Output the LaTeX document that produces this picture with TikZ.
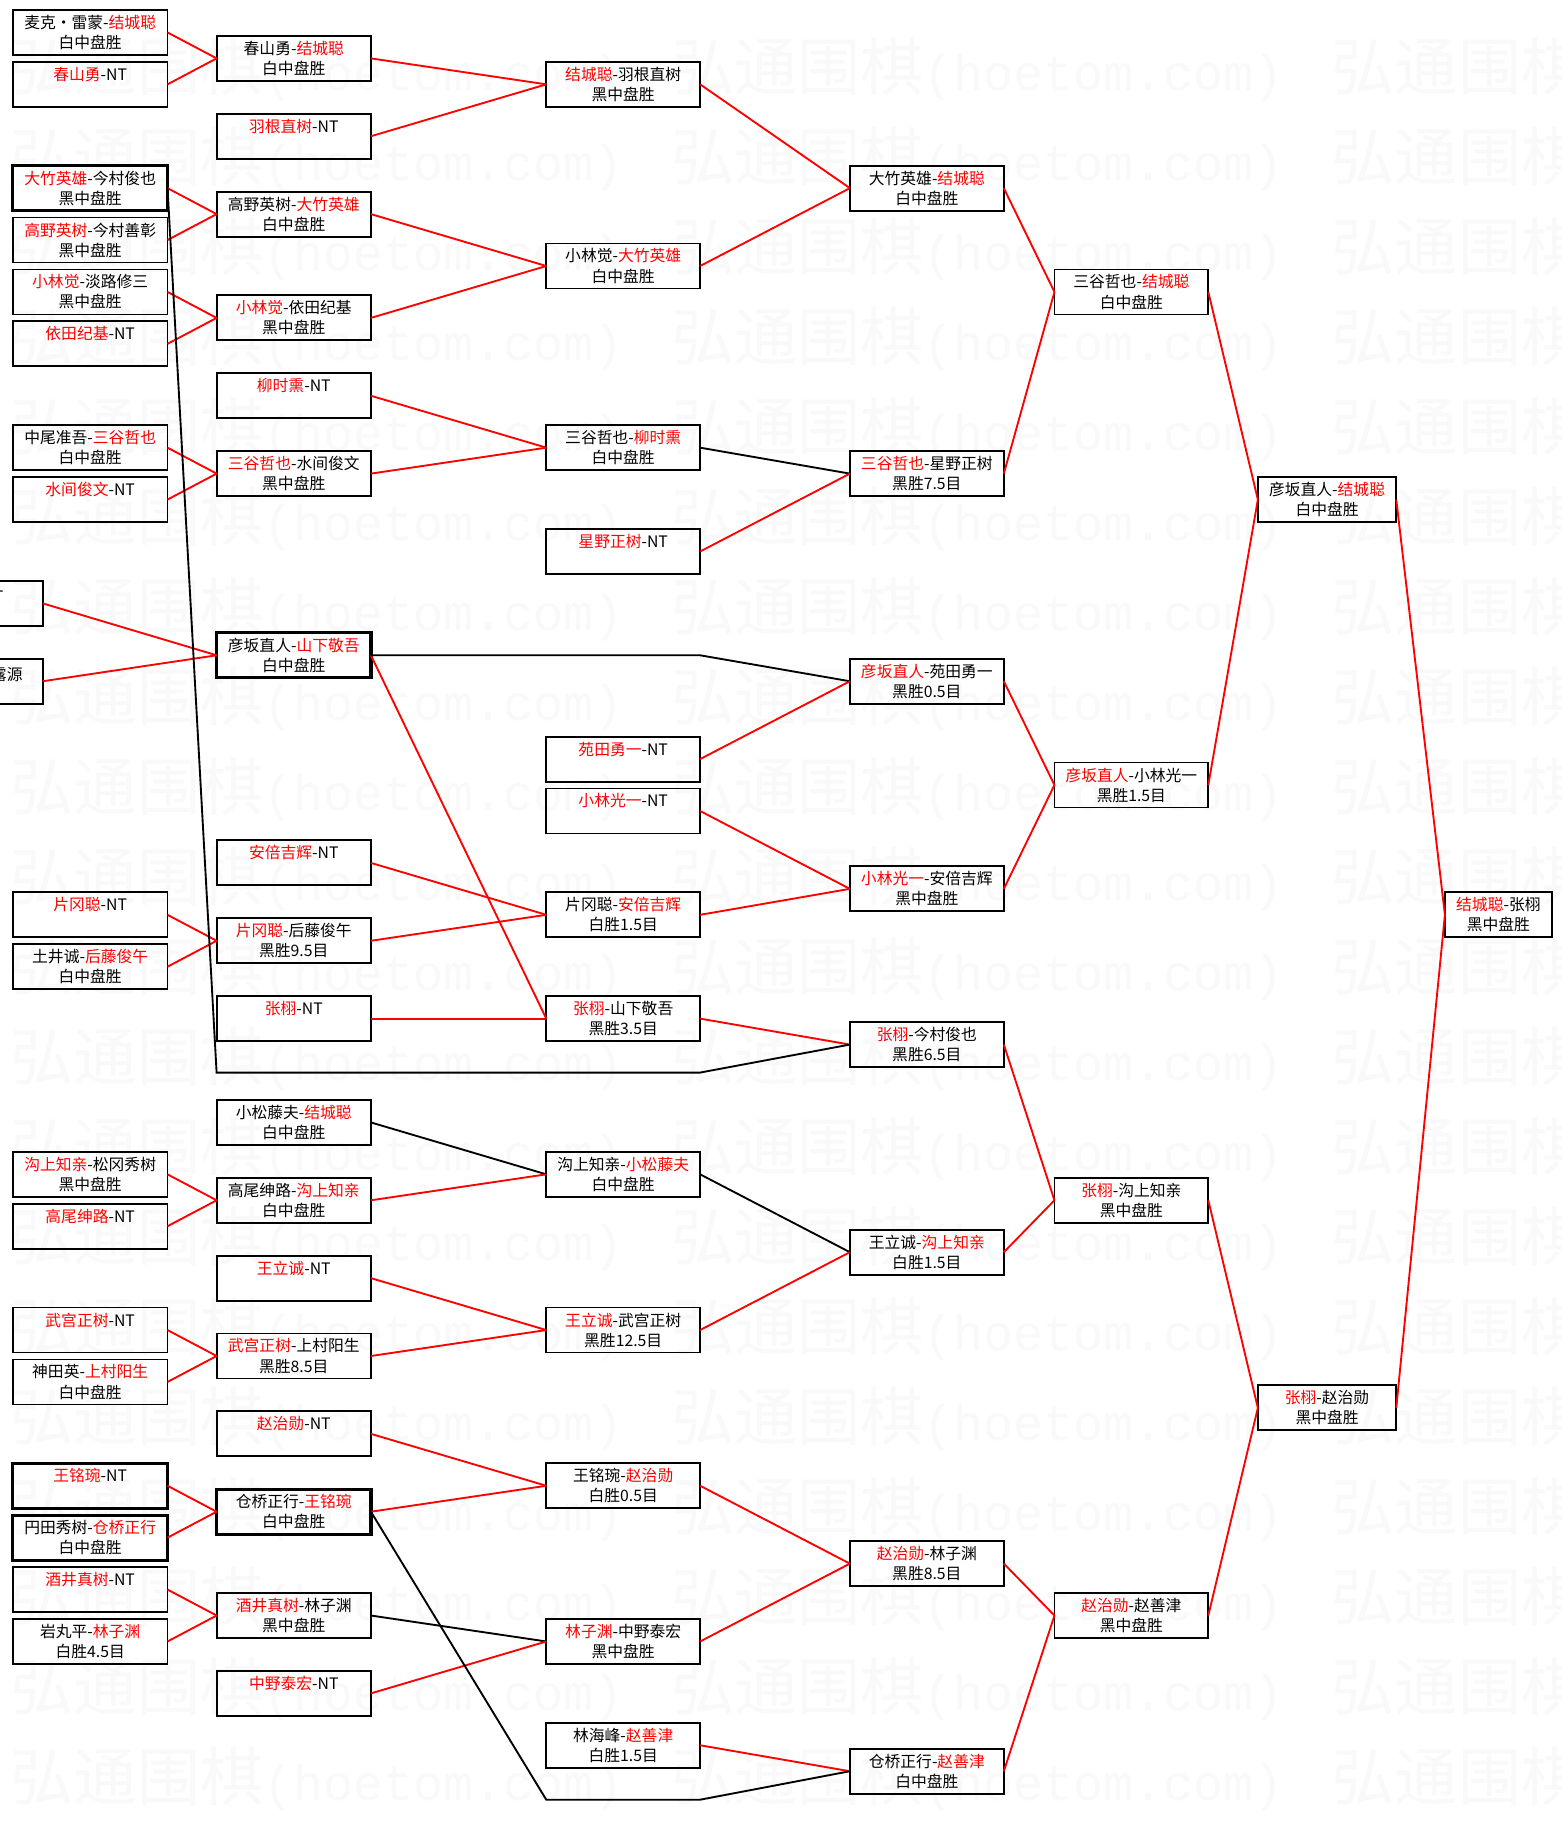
\documentclass[tikz,border=0pt]{standalone}
\usepackage{fontspec}
\newfontfamily\cjkfont{Noto Sans CJK SC}
\newfontfamily\wmlatin{Liberation Mono}
\newcommand\redn[1]{\textcolor{red}{#1}}
\newcommand\ry[1]{8.5+22.2*#1}
\tikzset{
  bx/.style={draw=black, line width=1.6pt, rectangle, inner sep=0pt, outer sep=0pt,
    anchor=north west, minimum height=38.5pt, align=center,
    font=\cjkfont\fontsize{13.5}{17.2}\selectfont, text=black,
    execute at begin node={\rule{0pt}{19.5pt}}},
  thk/.style={line width=2.8pt},
  cA/.style={minimum width=132.3pt},
  cB/.style={minimum width=132pt},
  cC/.style={minimum width=131.6pt},
  cD/.style={minimum width=131.7pt},
  cE/.style={minimum width=131.6pt},
  cF/.style={minimum width=118.4pt},
  cG/.style={minimum width=91.5pt},
  rl/.style={draw=red, line width=1.6pt},
  bl/.style={draw=black, line width=1.6pt},
  wm/.style={anchor=base west, inner sep=0pt, text=black!2.5},
  cut/.style={anchor=east, inner sep=0pt, font=\cjkfont\fontsize{13.5}{16.5}\selectfont},
}
\begin{document}
\begin{tikzpicture}[x=1pt,y=-1pt]
\useasboundingbox (0,0) rectangle (1336,1568);
\fill[white] (0,0) rectangle (1336,1568);
\clip (0,0) rectangle (1336,1568);
% watermark
\foreach \k in {0,...,19}{
  \foreach \xx in {9,574,1139}{
    \node[wm] (wm-\k-\xx) at (\xx,{77.5+77*\k}) {{\cjkfont\fontsize{54}{60}\selectfont 弘通围棋}{\wmlatin\fontsize{42.8}{50}\selectfont (hoetom.com)}};
  }
}
% column A
\node[bx,cA] (A1) at (11,{\ry{0}}) {麦克・雷蒙-\redn{结城聪}\\白中盘胜};
\node[bx,cA] (A2) at (11,{\ry{2}}) {\redn{春山勇}-NT\\\phantom{白}};
\node[bx,cA,thk] (A3) at (11,{\ry{6}}) {\redn{大竹英雄}-今村俊也\\黑中盘胜};
\node[bx,cA] (A4) at (11,{\ry{8}}) {\redn{高野英树}-今村善彰\\黑中盘胜};
\node[bx,cA] (A5) at (11,{\ry{10}}) {\redn{小林觉}-淡路修三\\黑中盘胜};
\node[bx,cA] (A6) at (11,{\ry{12}}) {\redn{依田纪基}-NT\\\phantom{白}};
\node[bx,cA] (A7) at (11,{\ry{16}}) {中尾准吾-\redn{三谷哲也}\\白中盘胜};
\node[bx,cA] (A8) at (11,{\ry{18}}) {\redn{水间俊文}-NT\\\phantom{白}};
\node[bx,cA] (A9) at (-95.7,{\ry{22}}) {};
\node[cut] (A9t) at (3,{\ry{22}+13.5}) {-NT};
\node[bx,cA] (A10) at (-95.7,{\ry{25}}) {};
\node[cut] (A10t) at (19.5,{\ry{25}+13.5}) {露源};
\node[bx,cA] (A11) at (11,{\ry{34}}) {\redn{片冈聪}-NT\\\phantom{白}};
\node[bx,cA] (A12) at (11,{\ry{36}}) {土井诚-\redn{后藤俊午}\\白中盘胜};
\node[bx,cA] (A13) at (11,{\ry{44}}) {\redn{沟上知亲}-松冈秀树\\黑中盘胜};
\node[bx,cA] (A14) at (11,{\ry{46}}) {\redn{高尾绅路}-NT\\\phantom{白}};
\node[bx,cA] (A15) at (11,{\ry{50}}) {\redn{武宫正树}-NT\\\phantom{白}};
\node[bx,cA] (A16) at (11,{\ry{52}}) {神田英-\redn{上村阳生}\\白中盘胜};
\node[bx,cA,thk] (A17) at (11,{\ry{56}}) {\redn{王铭琬}-NT\\\phantom{白}};
\node[bx,cA,thk] (A18) at (11,{\ry{58}}) {円田秀树-\redn{仓桥正行}\\白中盘胜};
\node[bx,cA] (A19) at (11,{\ry{60}}) {\redn{酒井真树}-NT\\\phantom{白}};
\node[bx,cA] (A20) at (11,{\ry{62}}) {岩丸平-\redn{林子渊}\\白胜4.5目};
% column B
\node[bx,cB] (B1) at (185.3,{\ry{1}}) {春山勇-\redn{结城聪}\\白中盘胜};
\node[bx,cB] (B2) at (185.3,{\ry{4}}) {\redn{羽根直树}-NT\\\phantom{白}};
\node[bx,cB] (B3) at (185.3,{\ry{7}}) {高野英树-\redn{大竹英雄}\\白中盘胜};
\node[bx,cB] (B4) at (185.3,{\ry{11}}) {\redn{小林觉}-依田纪基\\黑中盘胜};
\node[bx,cB] (B5) at (185.3,{\ry{14}}) {\redn{柳时熏}-NT\\\phantom{白}};
\node[bx,cB] (B6) at (185.3,{\ry{17}}) {\redn{三谷哲也}-水间俊文\\黑中盘胜};
\node[bx,cB,thk] (B7) at (185.3,{\ry{24}}) {彦坂直人-\redn{山下敬吾}\\白中盘胜};
\node[bx,cB] (B8) at (185.3,{\ry{32}}) {\redn{安倍吉辉}-NT\\\phantom{白}};
\node[bx,cB] (B9) at (185.3,{\ry{35}}) {\redn{片冈聪}-后藤俊午\\黑胜9.5目};
\node[bx,cB] (B10) at (185.3,{\ry{38}}) {\redn{张栩}-NT\\\phantom{白}};
\node[bx,cB] (B11) at (185.3,{\ry{42}}) {小松藤夫-\redn{结城聪}\\白中盘胜};
\node[bx,cB] (B12) at (185.3,{\ry{45}}) {高尾绅路-\redn{沟上知亲}\\白中盘胜};
\node[bx,cB] (B13) at (185.3,{\ry{48}}) {\redn{王立诚}-NT\\\phantom{白}};
\node[bx,cB] (B14) at (185.3,{\ry{51}}) {\redn{武宫正树}-上村阳生\\黑胜8.5目};
\node[bx,cB] (B15) at (185.3,{\ry{54}}) {\redn{赵治勋}-NT\\\phantom{白}};
\node[bx,cB,thk] (B16) at (185.3,{\ry{57}}) {仓桥正行-\redn{王铭琬}\\白中盘胜};
\node[bx,cB] (B17) at (185.3,{\ry{61}}) {\redn{酒井真树}-林子渊\\黑中盘胜};
\node[bx,cB] (B18) at (185.3,{\ry{64}}) {\redn{中野泰宏}-NT\\\phantom{白}};
% column C
\node[bx,cC] (C1) at (467.3,{\ry{2}}) {\redn{结城聪}-羽根直树\\黑中盘胜};
\node[bx,cC] (C2) at (467.3,{\ry{9}}) {小林觉-\redn{大竹英雄}\\白中盘胜};
\node[bx,cC] (C3) at (467.3,{\ry{16}}) {三谷哲也-\redn{柳时熏}\\白中盘胜};
\node[bx,cC] (C4) at (467.3,{\ry{20}}) {\redn{星野正树}-NT\\\phantom{白}};
\node[bx,cC] (C5) at (467.3,{\ry{28}}) {\redn{苑田勇一}-NT\\\phantom{白}};
\node[bx,cC] (C6) at (467.3,{\ry{30}}) {\redn{小林光一}-NT\\\phantom{白}};
\node[bx,cC] (C7) at (467.3,{\ry{34}}) {片冈聪-\redn{安倍吉辉}\\白胜1.5目};
\node[bx,cC] (C8) at (467.3,{\ry{38}}) {\redn{张栩}-山下敬吾\\黑胜3.5目};
\node[bx,cC] (C9) at (467.3,{\ry{44}}) {沟上知亲-\redn{小松藤夫}\\白中盘胜};
\node[bx,cC] (C10) at (467.3,{\ry{50}}) {\redn{王立诚}-武宫正树\\黑胜12.5目};
\node[bx,cC] (C11) at (467.3,{\ry{56}}) {王铭琬-\redn{赵治勋}\\白胜0.5目};
\node[bx,cC] (C12) at (467.3,{\ry{62}}) {\redn{林子渊}-中野泰宏\\黑中盘胜};
\node[bx,cC] (C13) at (467.3,{\ry{66}}) {林海峰-\redn{赵善津}\\白胜1.5目};
% column D
\node[bx,cD] (D1) at (727,{\ry{6}}) {大竹英雄-\redn{结城聪}\\白中盘胜};
\node[bx,cD] (D2) at (727,{\ry{17}}) {\redn{三谷哲也}-星野正树\\黑胜7.5目};
\node[bx,cD] (D3) at (727,{\ry{25}}) {\redn{彦坂直人}-苑田勇一\\黑胜0.5目};
\node[bx,cD] (D4) at (727,{\ry{33}}) {\redn{小林光一}-安倍吉辉\\黑中盘胜};
\node[bx,cD] (D5) at (727,{\ry{39}}) {\redn{张栩}-今村俊也\\黑胜6.5目};
\node[bx,cD] (D6) at (727,{\ry{47}}) {王立诚-\redn{沟上知亲}\\白胜1.5目};
\node[bx,cD] (D7) at (727,{\ry{59}}) {\redn{赵治勋}-林子渊\\黑胜8.5目};
\node[bx,cD] (D8) at (727,{\ry{67}}) {仓桥正行-\redn{赵善津}\\白中盘胜};
% column E
\node[bx,cE] (E1) at (902,{\ry{10}}) {三谷哲也-\redn{结城聪}\\白中盘胜};
\node[bx,cE] (E2) at (902,{\ry{29}}) {\redn{彦坂直人}-小林光一\\黑胜1.5目};
\node[bx,cE] (E3) at (902,{\ry{45}}) {\redn{张栩}-沟上知亲\\黑中盘胜};
\node[bx,cE] (E4) at (902,{\ry{61}}) {\redn{赵治勋}-赵善津\\黑中盘胜};
% column F
\node[bx,cF] (F1) at (1076,{\ry{18}}) {彦坂直人-\redn{结城聪}\\白中盘胜};
\node[bx,cF] (F2) at (1076,{\ry{53}}) {\redn{张栩}-赵治勋\\黑中盘胜};
% column G
\node[bx,cG] (G1) at (1236,{\ry{34}}) {\redn{结城聪}-张栩\\黑中盘胜};
% bend points
\coordinate (k1) at (185.3,917.5);
\coordinate (k2) at (598.9,917.5);
\coordinate (k3) at (467.3,1539.5);
\coordinate (k4) at (598.9,1539.5);
% connectors A -> B
\draw[rl] (A1.east) -- (B1.west);
\draw[rl] (A2.east) -- (B1.west);
\draw[rl] (A3.east) -- (B3.west);
\draw[rl] (A4.east) -- (B3.west);
\draw[rl] (A5.east) -- (B4.west);
\draw[rl] (A6.east) -- (B4.west);
\draw[rl] (A7.east) -- (B6.west);
\draw[rl] (A8.east) -- (B6.west);
\draw[rl] (A9.east) -- (B7.west);
\draw[rl] (A10.east) -- (B7.west);
\draw[rl] (A11.east) -- (B9.west);
\draw[rl] (A12.east) -- (B9.west);
\draw[rl] (A13.east) -- (B12.west);
\draw[rl] (A14.east) -- (B12.west);
\draw[rl] (A15.east) -- (B14.west);
\draw[rl] (A16.east) -- (B14.west);
\draw[rl] (A17.east) -- (B16.west);
\draw[rl] (A18.east) -- (B16.west);
\draw[rl] (A19.east) -- (B17.west);
\draw[rl] (A20.east) -- (B17.west);
% B -> C
\draw[rl] (B1.east) -- (C1.west);
\draw[rl] (B2.east) -- (C1.west);
\draw[rl] (B3.east) -- (C2.west);
\draw[rl] (B4.east) -- (C2.west);
\draw[rl] (B5.east) -- (C3.west);
\draw[rl] (B6.east) -- (C3.west);
\draw[rl] (B8.east) -- (C7.west);
\draw[rl] (B9.east) -- (C7.west);
\draw[rl] (B7.east) -- (C8.west);
\draw[rl] (B10.east) -- (C8.west);
\draw[bl] (B11.east) -- (C9.west);
\draw[rl] (B12.east) -- (C9.west);
\draw[rl] (B13.east) -- (C10.west);
\draw[rl] (B14.east) -- (C10.west);
\draw[rl] (B15.east) -- (C11.west);
\draw[rl] (B16.east) -- (C11.west);
\draw[bl] (B17.east) -- (C12.west);
\draw[rl] (B18.east) -- (C12.west);
% C -> D
\draw[rl] (C1.east) -- (D1.west);
\draw[rl] (C2.east) -- (D1.west);
\draw[bl] (C3.east) -- (D2.west);
\draw[rl] (C4.east) -- (D2.west);
\draw[bl] (B7.east) -- (B7.east -| C4.east) -- (D3.west);
\draw[rl] (C5.east) -- (D3.west);
\draw[rl] (C6.east) -- (D4.west);
\draw[rl] (C7.east) -- (D4.west);
\draw[rl] (C8.east) -- (D5.west);
\draw[bl] (A3.east) -- (k1) -- (k2) -- (D5.west);
\draw[bl] (C9.east) -- (D6.west);
\draw[rl] (C10.east) -- (D6.west);
\draw[rl] (C11.east) -- (D7.west);
\draw[rl] (C12.east) -- (D7.west);
\draw[rl] (C13.east) -- (D8.west);
\draw[bl] (B16.east) -- (k3) -- (k4) -- (D8.west);
% D -> E
\draw[rl] (D1.east) -- (E1.west);
\draw[rl] (D2.east) -- (E1.west);
\draw[rl] (D3.east) -- (E2.west);
\draw[rl] (D4.east) -- (E2.west);
\draw[rl] (D5.east) -- (E3.west);
\draw[rl] (D6.east) -- (E3.west);
\draw[rl] (D7.east) -- (E4.west);
\draw[rl] (D8.east) -- (E4.west);
% E -> F
\draw[rl] (E1.east) -- (F1.west);
\draw[rl] (E2.east) -- (F1.west);
\draw[rl] (E3.east) -- (F2.west);
\draw[rl] (E4.east) -- (F2.west);
% F -> G
\draw[rl] (F1.east) -- (G1.west);
\draw[rl] (F2.east) -- (G1.west);
\end{tikzpicture}
\end{document}
